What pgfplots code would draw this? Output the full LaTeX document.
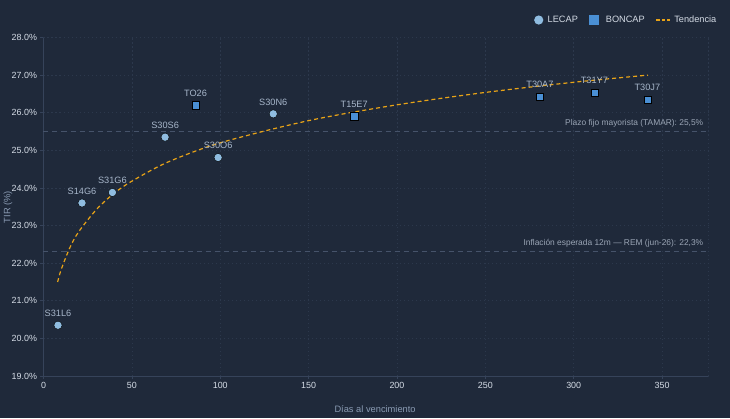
\documentclass[border=0pt]{standalone}
\usepackage{pgfplots}
\pgfplotsset{compat=1.18}
\usepackage{fontspec}
\setmainfont{Liberation Sans}
\definecolor{bg}{HTML}{1F293A}
\definecolor{gridc}{HTML}{2C384C}
\definecolor{axisc}{HTML}{36435A}
\definecolor{tickc}{HTML}{D5DCE6}
\definecolor{labc}{HTML}{8A9BB3}
\definecolor{lecap}{HTML}{8FBCE0}
\definecolor{boncap}{HTML}{4A8FD4}
\definecolor{trend}{HTML}{E8A317}
\definecolor{refc}{HTML}{46536A}
\definecolor{reflab}{HTML}{9AA5B5}
\definecolor{ptlab}{HTML}{A7B6CA}
\pgfplotstableread{
x y label
8.2 20.35 S31L6
21.8 23.60 S14G6
39.0 23.88 S31G6
68.8 25.35 S30S6
98.8 24.81 S30O6
130.0 25.97 S30N6
}\lecapdata
\pgfplotstableread{
x y label
86.0 26.20 TO26
175.8 25.91 T15E7
280.9 26.43 T30A7
311.7 26.54 T31Y7
341.7 26.35 T30J7
}\boncapdata
\pgfplotstableread{
x y
8 21.50
10 21.83
15 22.42
20 22.84
30 23.43
40 23.86
50 24.18
70 24.68
100 25.20
150 25.79
200 26.21
250 26.54
300 26.81
342 27.00
}\trenddata
\begin{document}
\begin{tikzpicture}
\fill[bg] (-43.5pt,-42pt) rectangle (686.5pt,376pt);
\begin{axis}[
  at={(0,0)}, anchor=south west,
  scale only axis, width=664.5pt, height=338.5pt,
  xmin=0, xmax=376, ymin=19, ymax=28,
  xtick={0,50,...,350}, ytick={19,20,...,28},
  axis x line*=bottom, axis y line*=left,
  axis line style={draw=axisc, line width=0.8pt},
  tick style={draw=axisc, line width=0.6pt},
  major tick length=3pt, tick align=outside,
  grid=major,
  major grid style={draw=gridc, dash pattern=on 1.5pt off 2.5pt, line width=0.6pt},
  extra x ticks={376}, extra x tick labels={},
  extra x tick style={grid=major, major tick length=0pt},
  /pgf/number format/assume math mode=true,
  ticklabel style={font=\fontsize{8.9}{10}\selectfont, text=tickc},
  yticklabel={\pgfmathprintnumber[fixed,fixed zerofill,precision=1]{\tick}\%},
  xticklabel style={/pgf/number format/fixed},
  xlabel={Días al vencimiento},
  ylabel={TIR (\%)},
  label style={font=\fontsize{9.3}{11}\selectfont, text=labc},
  xlabel style={at={(axis description cs:0.499,-0.0975)}, anchor=center},
  ylabel style={at={(axis description cs:-0.0534,0.499)}, anchor=center},
  legend columns=3,
  legend style={draw=none, fill=none, text=tickc, font=\fontsize{9.2}{10}\selectfont,
    inner sep=0pt, outer sep=0pt,
    at={(axis description cs:1.0155,1.0517)}, anchor=east,
    nodes={inner sep=2pt},
    /tikz/every even column/.append style={column sep=9pt}},
  legend cell align=left,
  clip=false,
]
\addplot[forget plot, draw=refc, line width=0.8pt, dash pattern=on 5pt off 4pt] coordinates {(0,25.5) (376,25.5)};
\addplot[forget plot, draw=refc, line width=0.8pt, dash pattern=on 5pt off 4pt] coordinates {(0,22.3) (376,22.3)};
\node[anchor=base east, inner sep=0pt, yshift=6pt, text=reflab, font=\fontsize{8.4}{10}\selectfont] at (axis cs:373.4,25.5) {Plazo fijo mayorista (TAMAR): 25,5\%};
\node[anchor=base east, inner sep=0pt, yshift=6pt, text=reflab, font=\fontsize{8.4}{10}\selectfont] at (axis cs:373.4,22.3) {Inflación esperada 12m — REM (jun-26): 22,3\%};
\addplot[only marks, mark=*, mark size=4.1pt, mark options={fill=lecap, draw=none},
  legend image code/.code={\path[draw=none, fill=none] (-0.5pt,-5pt) rectangle (11.5pt,5pt); \fill[lecap, draw=none] (4.5pt,0pt) circle (4.6pt);},
  nodes near coords, point meta=explicit symbolic,
  nodes near coords style={font=\fontsize{9.2}{10}\selectfont, text=ptlab, anchor=south, yshift=5pt}]
  table[x=x, y=y, meta=label] {\lecapdata};
\addlegendentry{LECAP}
\addplot[only marks, mark=square*, mark size=3.6pt, mark options={fill=boncap, draw=none},
  legend image code/.code={\path[draw=none, fill=none] (0pt,-5pt) rectangle (15pt,5pt); \fill[boncap, draw=none] (0pt,-5pt) rectangle (10pt,5pt);},
  nodes near coords, point meta=explicit symbolic,
  nodes near coords style={font=\fontsize{9.2}{10}\selectfont, text=ptlab, anchor=south, yshift=5pt}]
  table[x=x, y=y, meta=label] {\boncapdata};
\addlegendentry{BONCAP}
\addplot[no marks, smooth, draw=trend, line width=1.2pt, dash pattern=on 4pt off 3pt,
  legend image code/.code={\path[draw=none, fill=none] (0pt,-5pt) rectangle (16pt,5pt); \draw[trend, line width=1.2pt, dash pattern=on 3.5pt off 2pt] (0pt,0pt) -- (14pt,0pt);}]
  table[x=x, y=y] {\trenddata};
\addlegendentry{Tendencia}
\end{axis}
\pgfresetboundingbox
\path (-43.5pt,-42pt) rectangle (686.5pt,376pt);
\end{tikzpicture}
\end{document}
